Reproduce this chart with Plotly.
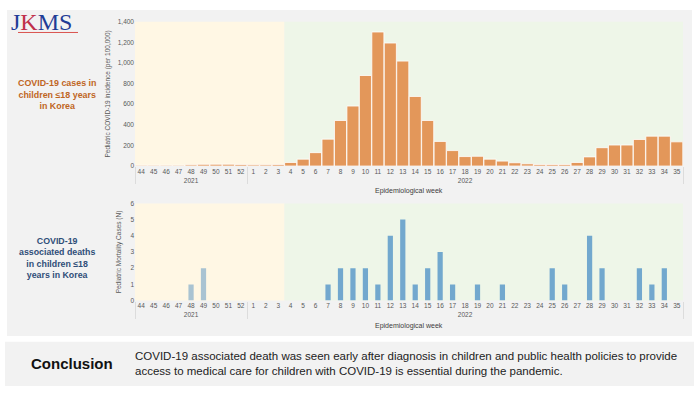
import plotly.graph_objects as go

W, H = 699, 393

weeks = [str(w) for w in range(44, 53)] + [str(w) for w in range(1, 36)]
years = ["2021"] * 9 + ["2022"] * 35

incidence = [8, 8, 8, 8, 12, 17, 18, 18, 16, 12, 12, 16,
             35, 67, 130, 261, 442, 582, 878, 1300, 1193, 1018, 675, 442, 239,
             150, 92, 95, 67, 48, 32, 22, 16, 16, 16, 35, 89, 178, 204, 204,
             258, 290, 290, 235]

deaths = [0, 0, 0, 0, 1, 2, 0, 0, 0, 0, 0, 0,
          0, 0, 0, 1, 2, 2, 2, 1, 4, 5, 1, 2, 3,
          1, 0, 1, 0, 1, 0, 0, 0, 2, 1, 0, 4, 2, 0, 0,
          2, 1, 2, 0]

ORANGE = "#E3975A"
BLUE = "#72A8CE"
BLUE_2021 = "#A9C3D2"
death_colors = [BLUE_2021 if y == "2021" else BLUE for y in years]

def px_x(v):
    return v / W

def px_y(v):
    return 1 - v / H

fig = go.Figure()

fig.add_trace(go.Bar(
    x=[years, weeks], y=incidence,
    marker=dict(color=ORANGE, line=dict(color="white", width=0.8)),
    xaxis="x", yaxis="y", showlegend=False,
))
fig.add_trace(go.Bar(
    x=[years, weeks], y=deaths,
    marker=dict(color=death_colors, line=dict(width=0)),
    width=0.42,
    xaxis="x2", yaxis="y2", showlegend=False,
))

xdom = [px_x(135), px_x(683)]
FONT = "Liberation Sans, Arial, sans-serif"
tickfont = dict(family=FONT, size=6.5, color="#595959")

common_x = dict(
    type="multicategory", domain=xdom, showgrid=False, zeroline=False,
    showline=False, ticks="", tickfont=tickfont, tickangle=0,
    dividercolor="#dcdcdc", dividerwidth=1, showdividers=True, fixedrange=True,
)
fig.update_layout(
    width=W, height=H,
    margin=dict(l=0, r=0, t=0, b=0),
    paper_bgcolor="white",
    plot_bgcolor="rgba(0,0,0,0)",
    bargap=0.03,
    xaxis=dict(anchor="y", **common_x),
    xaxis2=dict(anchor="y2", **common_x),
    yaxis=dict(
        domain=[px_y(165), px_y(18)], range=[0, 1400], dtick=200,
        tickformat=",", showgrid=False, zeroline=False, showline=False,
        tickfont=tickfont, ticks="", fixedrange=True,
        title=dict(text="Pediatric COVID-19 incidence (per 100,000)",
                   font=dict(family=FONT, size=6.5, color="#595959"),
                   standoff=6),
    ),
    yaxis2=dict(
        domain=[px_y(302), px_y(203)], range=[0, 6], dtick=1,
        showgrid=False, zeroline=False, showline=False,
        tickfont=tickfont, ticks="", fixedrange=True,
        title=dict(text="Pediatric Mortality Cases (N)",
                   font=dict(family=FONT, size=6.5, color="#595959"),
                   standoff=8),
    ),
)

shapes = [
    dict(type="rect", xref="paper", yref="paper", x0=px_x(7), x1=px_x(692),
         y0=px_y(338), y1=px_y(6), fillcolor="#F2F2F2", line=dict(width=0), layer="below"),
    dict(type="rect", xref="paper", yref="paper", x0=px_x(5), x1=px_x(694),
         y0=px_y(389), y1=px_y(344), fillcolor="#F2F2F2", line=dict(width=0), layer="below"),
    dict(type="line", xref="paper", yref="paper", x0=px_x(18), x1=px_x(78),
         y0=px_y(29), y1=px_y(29), line=dict(color="#D9534F", width=1)),
]
split = 12 / 44
for xr, yr in (("x domain", "y domain"), ("x2 domain", "y2 domain")):
    shapes.append(dict(type="rect", xref=xr, yref=yr, x0=0, x1=split, y0=0, y1=1,
                       fillcolor="#FFF7E4", line=dict(width=0), layer="below"))
    shapes.append(dict(type="rect", xref=xr, yref=yr, x0=split, x1=1, y0=0, y1=1,
                       fillcolor="#EEF6E8", line=dict(width=0), layer="below"))
fig.update_layout(shapes=shapes)

ann = []
ann.append(dict(
    text="<span style='color:#1F3C96'>J</span><span style='color:#C0304A'>K</span>"
         "<span style='color:#1F3C96'>MS</span>",
    xref="paper", yref="paper", x=px_x(9), y=px_y(18), xanchor="left", yanchor="middle",
    showarrow=False, font=dict(family="Liberation Serif, Times New Roman, serif", size=24),
))
ann.append(dict(
    text="COVID-19 cases in<br>children ≤18 years<br>in Korea",
    xref="paper", yref="paper", x=px_x(57), y=px_y(92), xanchor="center", yanchor="middle",
    showarrow=False, align="center",
    font=dict(family=FONT, size=8.9, color="#C0661F", weight="bold"),
))
ann.append(dict(
    text="COVID-19<br>associated deaths<br>in children ≤18<br>years in Korea",
    xref="paper", yref="paper", x=px_x(57), y=px_y(259), xanchor="center", yanchor="middle",
    showarrow=False, align="center",
    font=dict(family=FONT, size=8.8, color="#2F4E78", weight="bold"),
))
for yy in (190, 328):
    ann.append(dict(
        text="Epidemiological week", xref="paper", yref="paper",
        x=px_x(409), y=px_y(yy), xanchor="center", yanchor="middle", showarrow=False,
        font=dict(family=FONT, size=7, color="#404040"),
    ))
ann.append(dict(
    text="Conclusion", xref="paper", yref="paper", x=px_x(72), y=px_y(366),
    xanchor="center", yanchor="middle", showarrow=False,
    font=dict(family=FONT, size=15, color="#111111", weight="bold"),
))
ann.append(dict(
    text="COVID-19 associated death was seen early after diagnosis in children and public health policies to provide<br>"
         "access to medical care for children with COVID-19 is essential during the pandemic.",
    xref="paper", yref="paper", x=px_x(133), y=px_y(366), xanchor="left", yanchor="middle",
    showarrow=False, align="left",
    font=dict(family=FONT, size=11.5, color="#222222"),
))
fig.update_layout(annotations=ann)

fig.write_html("out.html", config={"displayModeBar": False},
               post_script="document.body.style.margin='0';")
